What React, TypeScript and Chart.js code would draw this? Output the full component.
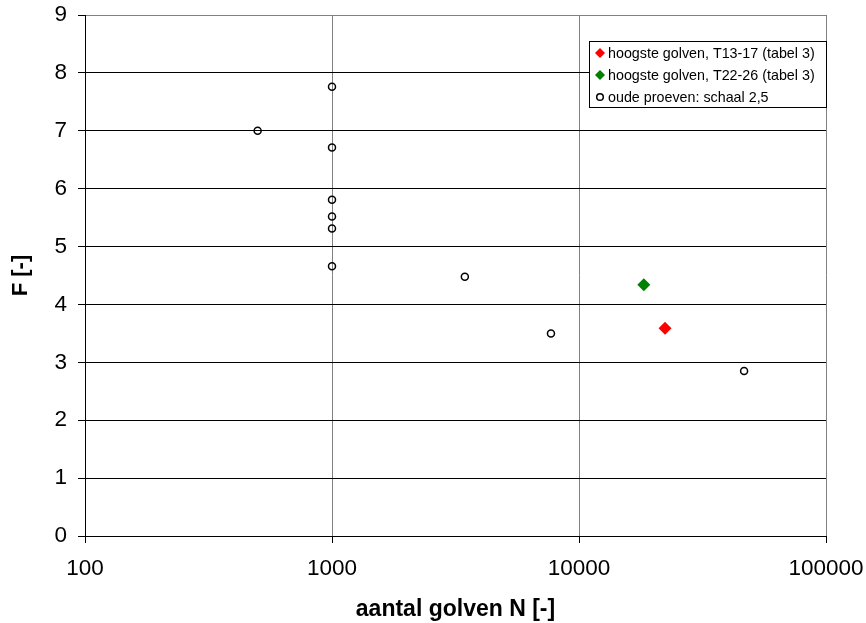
import React, { useEffect, useRef } from "react";
import { Chart, registerables } from "chart.js";

Chart.register(...registerables);

const seriesLabels = [
  "hoogste golven, T13-17 (tabel 3)",
  "hoogste golven, T22-26 (tabel 3)",
  "oude proeven: schaal 2,5",
];
const redN = [22300];
const redF = [3.59];
const greenN = [18300];
const greenF = [4.34];
const oldN = [500, 1000, 1000, 1000, 1000, 1000, 1000, 3450, 7700, 46600];
const oldF = [7.0, 7.76, 6.71, 5.81, 5.52, 5.31, 4.66, 4.48, 3.5, 2.85];
const xTicks = [100, 1000, 10000, 100000];
const xTitle = "aantal golven N [-]";
const yTitle = "F [-]";

const FONT = "'Liberation Sans', Arial, sans-serif";

const zip = (xs: number[], ys: number[]) => xs.map((x, i) => ({ x, y: ys[i] }));

const legendPlugin = {
  id: "boxLegend",
  afterDraw(chart: any) {
    const ctx = chart.ctx;
    const area = chart.chartArea;
    const w = 237;
    const h = 66;
    const x0 = area.right - w;
    const y0 = 41;
    ctx.save();
    ctx.fillStyle = "#fff";
    ctx.fillRect(x0, y0, w, h);
    ctx.strokeStyle = "#000";
    ctx.lineWidth = 1;
    ctx.strokeRect(x0 + 0.5, y0 + 0.5, w, h);
    ctx.font = "14.3px " + FONT;
    ctx.textBaseline = "middle";
    chart.data.datasets.forEach((ds: any, i: number) => {
      const cy = y0 + 12 + i * 22;
      const mx = x0 + 11;
      ctx.beginPath();
      if (ds.pointStyle === "rectRot") {
        ctx.moveTo(mx, cy - 5);
        ctx.lineTo(mx + 5, cy);
        ctx.lineTo(mx, cy + 5);
        ctx.lineTo(mx - 5, cy);
        ctx.closePath();
        ctx.fillStyle = ds.backgroundColor;
        ctx.fill();
      } else {
        ctx.arc(mx, cy, 3.3, 0, Math.PI * 2);
        ctx.strokeStyle = "#000";
        ctx.lineWidth = 1.5;
        ctx.stroke();
      }
      ctx.fillStyle = "#000";
      ctx.fillText(ds.label, x0 + 19, cy + 1);
    });
    ctx.restore();
  },
};

export default function App() {
  const ref = useRef<HTMLCanvasElement>(null);
  useEffect(() => {
    if (!ref.current) return;
    const chart = new Chart(ref.current, {
      type: "scatter",
      data: {
        datasets: [
          {
            label: seriesLabels[0],
            data: zip(redN, redF),
            pointStyle: "rectRot",
            pointRadius: 6.5,
            backgroundColor: "#FF0000",
            borderColor: "#FF0000",
            borderWidth: 0,
          },
          {
            label: seriesLabels[1],
            data: zip(greenN, greenF),
            pointStyle: "rectRot",
            pointRadius: 6.5,
            backgroundColor: "#008000",
            borderColor: "#008000",
            borderWidth: 0,
          },
          {
            label: seriesLabels[2],
            data: zip(oldN, oldF),
            pointStyle: "circle",
            pointRadius: 3.5,
            backgroundColor: "rgba(255,255,255,0)",
            borderColor: "#000",
            borderWidth: 1.5,
          },
        ],
      },
      options: {
        animation: false,
        responsive: false,
        maintainAspectRatio: false,
        layout: { padding: { left: 0, top: 15, right: 40, bottom: 0 } },
        plugins: {
          legend: { display: false },
          tooltip: { enabled: false },
        },
        scales: {
          x: {
            type: "logarithmic",
            min: 100,
            max: 100000,
            afterBuildTicks: (s: any) => {
              s.ticks = xTicks.map((v) => ({ value: v, major: true }));
            },
            afterFit: (s: any) => {
              s.height = 87;
              s.paddingLeft = 0;
              s.paddingRight = 0;
            },
            ticks: {
              color: "#000",
              font: { family: FONT, size: 22.5 },
              padding: 12,
              autoSkip: false,
              maxRotation: 0,
              callback: (v: any) => String(v),
            },
            grid: {
              color: "#808080",
              tickColor: "#000",
              tickLength: 7,
              lineWidth: 1,
            },
            border: { color: "#000", width: 1 },
            title: {
              display: true,
              text: xTitle,
              color: "#000",
              font: { family: FONT, size: 23, weight: "bold" },
              padding: { top: 0, bottom: 0 },
            },
          },
          y: {
            min: 0,
            max: 9,
            afterFit: (s: any) => {
              s.width = 85;
              s.paddingTop = 0;
              s.paddingBottom = 0;
            },
            ticks: {
              stepSize: 1,
              color: "#000",
              font: { family: FONT, size: 22.5 },
              padding: 11,
            },
            grid: {
              color: (c: any) => (c.tick && c.tick.value === 9 ? "#808080" : "#000"),
              tickColor: "#000",
              tickLength: 7,
              lineWidth: 1,
            },
            border: { color: "#000", width: 1 },
            title: {
              display: true,
              text: yTitle,
              color: "#000",
              font: { family: FONT, size: 22, weight: "bold" },
              padding: { top: 8, bottom: 0 },
            },
          },
        },
      },
      plugins: [legendPlugin],
    } as any);
    return () => chart.destroy();
  }, []);
  return (
    <div style={{ position: "fixed", left: 0, top: 0, width: 866, height: 623, background: "#fff" }}>
      <canvas ref={ref} width={866} height={623} style={{ width: 866, height: 623, display: "block" }} />
    </div>
  );
}
